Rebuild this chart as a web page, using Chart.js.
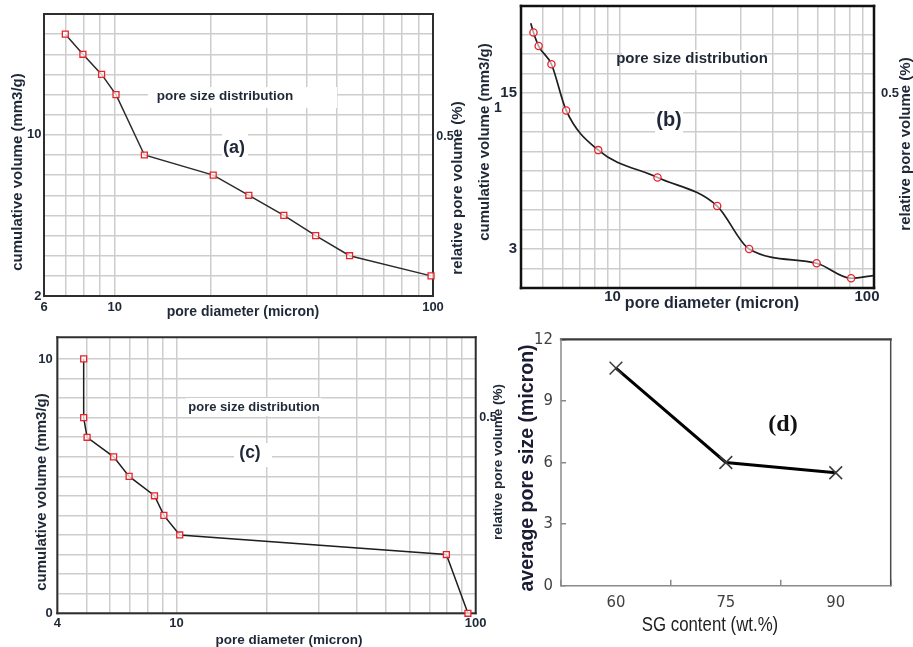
<!DOCTYPE html>
<html><head><meta charset="utf-8">
<script src="https://cdn.jsdelivr.net/npm/chart.js@4.4.1/dist/chart.umd.min.js"></script>
<style>
html,body{margin:0;padding:0;background:#fff;}
#wrap{position:relative;width:913px;height:647px;overflow:hidden;background:#fff;}
canvas{position:absolute;left:0;top:0;}
</style></head><body>
<div id="wrap">
<canvas id="ca" width="913" height="647"></canvas>
<canvas id="cb" width="913" height="647"></canvas>
<canvas id="cc" width="913" height="647"></canvas>
<canvas id="cd" width="913" height="647"></canvas>
</div>
<script>
// ---------- Panel (a) ----------
const aDiameter = [7.0, 7.95, 9.1, 10.1, 12.4, 20.4, 26.4, 34.0, 42.8, 54.7, 98.6];
const aVolume   = [15, 14, 13, 12, 9, 8, 7, 6, 5, 4, 3];
const aXTicks   = [6, 7, 8, 9, 10, 20, 30, 40, 50, 60, 70, 80, 90, 100];
const aXLabels  = [6, 10, 100];
const aYTicks   = [2, 3, 4, 5, 6, 7, 8, 9, 10, 11, 12, 13, 14, 15, 16];
const aYLabels  = [2, 10];

// ---------- Panel (b) ----------
const bDiameter = [4.48, 4.59, 4.81, 5.40, 6.17, 8.25, 14.1, 24.2, 32.3, 59.5, 81.3, 99.1];
const bVolume   = [20.35, 19.65, 18.6, 17.2, 13.65, 10.6, 8.5, 6.3, 3.0, 1.9, 0.75, 0.95];
const bMarked   = [false, true, true, true, true, true, true, true, true, true, true, false];
const bXTicks   = [5, 6, 7, 8, 9, 10, 20, 30, 40, 50, 60, 70, 80, 90, 100];
const bXLabels  = [10, 100];
const bYTicks   = [0, 1.5, 3, 4.5, 6, 7.5, 9, 10.5, 12, 13.5, 15, 16.5, 18, 19.5];
const bYLabels  = [3, 15];

// ---------- Panel (c) ----------
const cDiameter = [4.90, 4.90, 5.03, 6.17, 6.95, 8.45, 9.08, 10.26, 79.8, 94.2];
const cVolume   = [10, 7.69, 6.92, 6.15, 5.38, 4.62, 3.85, 3.08, 2.31, 0];
const cXTicks   = [4, 5, 6, 7, 8, 9, 10, 20, 30, 40, 50, 60, 70, 80, 90, 100];
const cXLabels  = [4, 10, 100];
const cYTicks   = [0, 0.769, 1.538, 2.308, 3.077, 3.846, 4.615, 5.385, 6.154, 6.923, 7.692, 8.462, 9.231, 10];
const cYLabels  = [0, 10];

// ---------- Panel (d) ----------
const dContent  = ['60', '75', '90'];
const dPoreSize = [10.6, 6.0, 5.5];
const dYTicks   = [0, 3, 6, 9, 12];

const SANS = "'Liberation Sans', Arial, sans-serif";
const NARROW = "'Liberation Sans Narrow', 'Arial Narrow', 'DejaVu Sans Condensed', 'Liberation Sans', sans-serif";
const SERIF = "'Liberation Serif', 'Times New Roman', serif";
const TXT = '#1f2837';
const GRID = '#cdcdcd';

const deco = {
  id: 'deco',
  beforeDatasetsDraw(chart, args, o) {
    const ctx = chart.ctx, a = chart.chartArea;
    ctx.save();
    (o.boxes || []).forEach(b => { ctx.fillStyle = '#fff'; ctx.fillRect(b[0], b[1], b[2], b[3]); });
    const f = o.frame;
    if (f) {
      ctx.lineCap = 'square';
      const side = (s, x1, y1, x2, y2) => {
        if (!f[s]) return;
        ctx.strokeStyle = f[s][0]; ctx.lineWidth = f[s][1];
        ctx.beginPath(); ctx.moveTo(x1, y1); ctx.lineTo(x2, y2); ctx.stroke();
      };
      side('top', a.left, a.top, a.right, a.top);
      side('right', a.right, a.top, a.right, a.bottom);
      side('bottom', a.left, a.bottom, a.right, a.bottom);
      side('left', a.left, a.top, a.left, a.bottom);
    }
    (o.texts || []).forEach(t => {
      ctx.save();
      ctx.translate(t.x, t.y);
      if (t.r) ctx.rotate(t.r * Math.PI / 180);
      if (t.sx) ctx.scale(t.sx, 1);
      ctx.font = t.f; ctx.fillStyle = t.c || TXT;
      ctx.textAlign = 'center'; ctx.textBaseline = 'middle';
      ctx.fillText(t.t, 0, 0);
      ctx.restore();
    });
    ctx.restore();
  }
};

function fitW(w) { return s => { s.width = w; s.paddingTop = 0; s.paddingBottom = 0; s.paddingLeft = 0; s.paddingRight = 0; }; }
function fitH(h) { return s => { s.height = h; s.paddingTop = 0; s.paddingBottom = 0; s.paddingLeft = 0; s.paddingRight = 0; }; }
function setTicks(arr) { return s => { s.ticks = arr.map(v => ({ value: v })); }; }
function labelOnly(arr) { return v => arr.some(l => Math.abs(l - v) < 1e-6) ? String(v) : ''; }

function poreChart(id, cfg) {
  return new Chart(document.getElementById(id), {
    type: 'line',
    data: { datasets: [cfg.dataset] },
    options: {
      responsive: false, animation: false, devicePixelRatio: 1,
      layout: { padding: cfg.pad },
      plugins: { legend: { display: false }, tooltip: { enabled: false }, deco: cfg.deco },
      scales: {
        x: {
          type: 'logarithmic', min: cfg.xmin, max: cfg.xmax,
          afterBuildTicks: setTicks(cfg.xTicks), afterFit: fitH(20),
          border: { display: false },
          grid: { color: GRID, lineWidth: 1.5, drawTicks: false },
          ticks: { autoSkip: false, maxRotation: 0, minRotation: 0, padding: cfg.xPad, labelOffset: cfg.xOff || 0,
                   callback: labelOnly(cfg.xLabels), color: TXT, font: { family: SANS, size: cfg.tickSize, weight: 'bold' } }
        },
        y: {
          type: 'linear', min: cfg.ymin, max: cfg.ymax,
          afterBuildTicks: setTicks(cfg.yTicks), afterFit: fitW(cfg.yW),
          border: { display: false },
          grid: { color: GRID, lineWidth: 1.5, drawTicks: false },
          ticks: { autoSkip: false, padding: cfg.yPad,
                   callback: labelOnly(cfg.yLabels), color: TXT, font: { family: SANS, size: cfg.tickSize, weight: 'bold' } }
        }
      }
    },
    plugins: [deco]
  });
}

// (a)
poreChart('ca', {
  pad: { left: 0, top: 14, right: 480, bottom: 331 },
  xmin: 6, xmax: 100, xTicks: aXTicks, xLabels: aXLabels, xPad: 3.3,
  ymin: 2, ymax: 16, yTicks: aYTicks, yLabels: aYLabels, yPad: 2.5, yW: 44, tickSize: 13,
  dataset: {
    data: aDiameter.map((x, i) => ({ x, y: aVolume[i] })),
    borderColor: '#2b2b2b', borderWidth: 1.5, tension: 0, clip: false,
    pointStyle: 'rect', pointRadius: 4.2, pointBorderColor: '#e8232a', pointBorderWidth: 1.3,
    pointBackgroundColor: 'rgba(255,255,255,0.75)'
  },
  deco: {
    boxes: [[148, 87, 189, 21], [222, 134, 26, 28]],
    frame: { top: ['#2e2e2e', 2], right: ['#2e2e2e', 2], bottom: ['#2e2e2e', 2], left: ['#2e2e2e', 2] },
    texts: [
      { t: 'pore size distribution', x: 225, y: 96, f: 'bold 13.5px ' + SANS },
      { t: '(a)', x: 234, y: 148, f: 'bold 18px ' + SANS },
      { t: 'cumulative volume (mm3/g)', x: 18, y: 172, r: -90, f: 'bold 15px ' + SANS },
      { t: 'pore diameter (micron)', x: 243, y: 312, f: 'bold 14px ' + SANS },
      { t: '0.5', x: 445, y: 137, f: 'bold 12.5px ' + SANS },
      { t: 'relative pore volume (%)', x: 458, y: 188, r: -90, f: 'bold 15px ' + SANS }
    ]
  }
});

// (b)
poreChart('cb', {
  pad: { left: 491, top: 6, right: 39, bottom: 339 },
  xmin: 4.1, xmax: 100, xTicks: bXTicks, xLabels: bXLabels, xPad: 0, xOff: -7,
  ymin: 0, ymax: 21.68, yTicks: bYTicks, yLabels: bYLabels, yPad: 4, yW: 30, tickSize: 15,
  dataset: {
    data: bDiameter.map((x, i) => ({ x, y: bVolume[i] })),
    borderColor: '#1e1e1e', borderWidth: 1.7, cubicInterpolationMode: 'monotone', clip: false,
    pointStyle: 'circle', pointRadius: c => bMarked[c.dataIndex] ? 3.6 : 0,
    pointBorderColor: '#e8232a', pointBorderWidth: 1.3, pointBackgroundColor: 'rgba(255,255,255,0.6)'
  },
  deco: {
    boxes: [[622, 50, 142, 20], [655, 106, 28, 28]],
    frame: { top: ['#111', 2.5], right: ['#111', 2.5], bottom: ['#111', 2.5], left: ['#111', 2.5] },
    texts: [
      { t: 'pore size distribution', x: 692, y: 59, f: 'bold 15px ' + SANS },
      { t: '(b)', x: 669, y: 120, f: 'bold 20px ' + SANS },
      { t: 'cumulative volume (mm3/g)', x: 485, y: 142, r: -90, f: 'bold 15px ' + SANS },
      { t: '1', x: 498, y: 108, f: 'bold 14px ' + SANS },
      { t: 'pore diameter (micron)', x: 712, y: 304, f: 'bold 16px ' + SANS },
      { t: '0.5', x: 890, y: 93, f: 'bold 13px ' + SANS },
      { t: 'relative pore volume (%)', x: 906, y: 144, r: -90, f: 'bold 15px ' + SANS }
    ]
  }
});

// (c)
poreChart('cc', {
  pad: { left: 17.3, top: 337.3, right: 437.3, bottom: 13.7 },
  xmin: 4, xmax: 100, xTicks: cXTicks, xLabels: cXLabels, xPad: 2.8,
  ymin: 0, ymax: 10.85, yTicks: cYTicks, yLabels: cYLabels, yPad: 4.5, yW: 40, tickSize: 13,
  dataset: {
    data: cDiameter.map((x, i) => ({ x, y: cVolume[i] })),
    borderColor: '#1e1e1e', borderWidth: 1.5, tension: 0, clip: false,
    pointStyle: 'rect', pointRadius: 4.2, pointBorderColor: '#e8232a', pointBorderWidth: 1.3,
    pointBackgroundColor: 'rgba(255,255,255,0.75)'
  },
  deco: {
    boxes: [[186, 398, 136, 18], [234, 443, 38, 24]],
    frame: { top: ['#2e2e2e', 2], right: ['#2e2e2e', 2], bottom: ['#2e2e2e', 2], left: ['#2e2e2e', 2] },
    texts: [
      { t: 'pore size distribution', x: 254, y: 407, f: 'bold 13px ' + SANS },
      { t: '(c)', x: 250, y: 453, f: 'bold 17.5px ' + SANS },
      { t: 'cumulative volume (mm3/g)', x: 42, y: 492, r: -90, f: 'bold 15px ' + SANS },
      { t: 'pore diameter (micron)', x: 289, y: 640, f: 'bold 13.5px ' + SANS },
      { t: '0.5', x: 488, y: 418, f: 'bold 12.5px ' + SANS },
      { t: 'relative pore volume (%)', x: 498, y: 462, r: -90, f: 'bold 13.5px ' + SANS }
    ]
  }
});

// (d)
new Chart(document.getElementById('cd'), {
  type: 'line',
  data: {
    labels: dContent,
    datasets: [{
      data: dPoreSize, borderColor: '#000', borderWidth: 3, tension: 0, clip: false,
      pointStyle: 'crossRot', pointRadius: 9, pointBorderColor: '#3a3a3a', pointBorderWidth: 1.5,
      pointBackgroundColor: 'transparent'
    }]
  },
  options: {
    responsive: false, animation: false, devicePixelRatio: 1,
    layout: { padding: { left: 521, top: 339.3, right: 22.3, bottom: 21.3 } },
    plugins: {
      legend: { display: false }, tooltip: { enabled: false },
      deco: {
        frame: { top: ['#3a3a3a', 2.2], right: ['#4a4a4a', 1.5], bottom: ['#8a8a8a', 1.5], left: ['#8a8a8a', 1.5] },
        texts: [
          { t: 'average pore size (micron)', x: 528, y: 468, r: -90, f: 'bold 19.5px ' + SANS, c: '#1b1b33' },
          { t: 'SG content (wt.%)', x: 710, y: 625, sx: 0.82, f: '20.5px ' + SANS, c: '#222' },
          { t: '(d)', x: 783, y: 425, f: 'bold 24px ' + SERIF, c: '#111' }
        ]
      }
    },
    scales: {
      x: {
        type: 'category', offset: true, afterFit: fitH(40),
        border: { display: false },
        grid: { offset: true, drawOnChartArea: false, drawTicks: true, tickLength: -6, color: '#8a8a8a', lineWidth: 1.5 },
        ticks: { padding: 13.1, color: '#404040', font: { family: NARROW, size: 16.5 } }
      },
      y: {
        type: 'linear', min: 0, max: 12,
        afterBuildTicks: setTicks(dYTicks), afterFit: fitW(40),
        border: { display: false },
        grid: { drawOnChartArea: false, drawTicks: true, tickLength: -5, color: '#8a8a8a', lineWidth: 1.5 },
        ticks: { padding: 13, color: '#404040', font: { family: NARROW, size: 16.5 } }
      }
    }
  },
  plugins: [deco]
});
</script>
</body></html>
